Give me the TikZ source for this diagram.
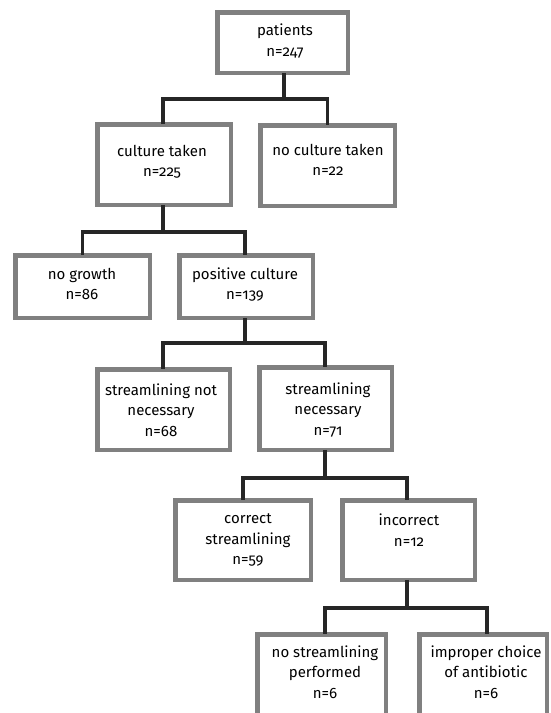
\documentclass[tikz,border=0pt]{standalone}
\usepackage{fontspec}
\setmainfont[Numbers=OldStyle]{Fira Sans}
\begin{document}
\begin{tikzpicture}[x=1pt,y=-1pt,
  box/.style={draw=black!50,line width=4.5pt,fill=white,inner sep=0pt,outer sep=0pt},
  txt/.style={align=center,font=\fontsize{15}{20.5}\selectfont,inner sep=0pt},
  conn/.style={draw=black!85,line width=3.2pt}]
\useasboundingbox (0,0) rectangle (551,713);
\fill[white] (0,0) rectangle (551,713);
% boxes (center, inner size = outer - line width)
\node[box,minimum width=130.5,minimum height=60.5] (p) at (282.5,42.5) {};
\node[box,minimum width=133.5,minimum height=80.5] (c1) at (164,164.5) {};
\node[box,minimum width=134.5,minimum height=80.5] (c2) at (327.5,165.5) {};
\node[box,minimum width=134.5,minimum height=62.5] (g1) at (82.5,286.5) {};
\node[box,minimum width=133.5,minimum height=62.5] (g2) at (246,286.5) {};
\node[box,minimum width=132.5,minimum height=80.5] (s1) at (163.5,409.5) {};
\node[box,minimum width=132.5,minimum height=82.5] (s2) at (325.5,408.5) {};
\node[box,minimum width=135.5,minimum height=79.5] (r1) at (243,540) {};
\node[box,minimum width=132.5,minimum height=79.5] (r2) at (408.5,540) {};
\node[box,minimum width=128.5,minimum height=80.5] (q1) at (321.5,674.5) {};
\node[box,minimum width=127.5,minimum height=80.5] (q2) at (483,674.5) {};
% texts
\node[txt] (tp) at (285,41) {patients\\n=247};
\node[txt] (tc1) at (162,161.5) {culture taken\\n=225};
\node[txt] (tc2) at (328,160) {no culture taken\\n=22};
\node[txt] (tg1) at (82,284) {no growth\\n=86};
\node[txt] (tg2) at (245,284.5) {positive culture\\n=139};
\node[txt] (ts1) at (161,410) {streamlining not\\necessary\\n=68};
\node[txt] (ts2) at (328,410) {streamlining\\necessary\\n=71};
\node[txt] (tr1) at (248,540) {correct\\streamlining\\n=59};
\node[txt] (tr2) at (409,530) {incorrect\\n=12};
\node[txt] (tq1) at (325,672) {no streamlining\\performed\\n=6};
\node[txt] (tq2) at (486,672) {improper choice\\of antibiotic\\n=6};
% junctions
\coordinate (j1) at (284,99);
\coordinate (j2) at (163,232);
\coordinate (j3) at (245,343);
\coordinate (j4) at (325,478);
\coordinate (j5) at (407,608);
% connectors
\draw[conn] (p.south -| j1) -- (j1) -| (c1.north -| j2);
\draw[conn] (j1) -| (c2.north);
\draw[conn] (c1.south -| j2) -- (j2) -| (g1.north);
\draw[conn] (j2) -| (g2.north -| j3);
\draw[conn] (g2.south -| j3) -- (j3) -| (s1.north -| j2);
\draw[conn] (j3) -| (s2.north -| j4);
\draw[conn] (s2.south -| j4) -- (j4) -| (r1.north -| 243,0);
\draw[conn] (j4) -| (r2.north -| j5);
\draw[conn] (r2.south -| j5) -- (j5) -| (q1.north -| j4);
\draw[conn] (j5) -| (q2.north -| 487,0);
\end{tikzpicture}
\end{document}
